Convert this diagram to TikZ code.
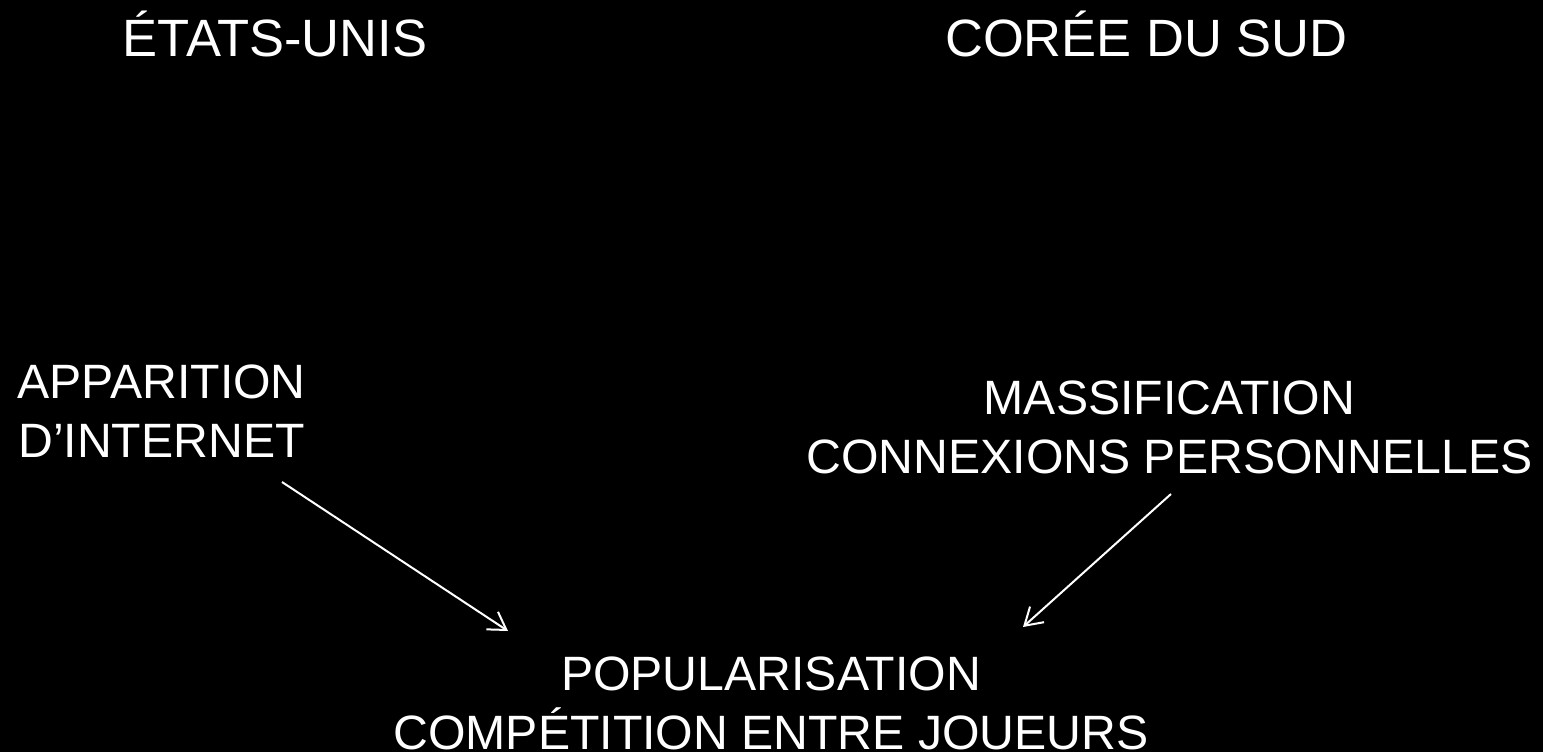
\documentclass[tikz,border=0pt]{standalone}
\usepackage{fontspec}
\setmainfont{Liberation Sans}
\usetikzlibrary{arrows.meta}
\begin{document}
\begin{tikzpicture}[x=1pt,y=-1pt,
  head/.style={text=white,inner sep=0pt,anchor=base,font=\fontsize{52.5}{62}\selectfont},
  lbl/.style={text=white,inner sep=0pt,anchor=base,align=center,font=\fontsize{48.2}{59}\selectfont},
  conn/.style={draw=white,line width=2pt,-{Straight Barb[length=17pt,width=21pt,line width=2pt]}}]
\fill[black] (0,0) rectangle (1543,752);
\useasboundingbox (0,0) rectangle (1543,752);
\node[head] (us) at (275,57) {ÉTATS-UNIS};
\node[head] (kr) at (1146.5,57) {CORÉE DU SUD};
\node[lbl] (inet) at (161.5,457) {APPARITION\\D’INTERNET};
\node[lbl] (mass) at (1169.5,473) {MASSIFICATION\\CONNEXIONS PERSONNELLES};
\node[lbl] (pop) at (771,749) {POPULARISATION\\COMPÉTITION ENTRE JOUEURS};
\coordinate (a1s) at (282,482);
\coordinate (a1e) at (508,631);
\coordinate (a2s) at (1171,494);
\coordinate (a2e) at (1023,627);
\draw[conn] (a1s) -- (a1e);
\draw[conn] (a2s) -- (a2e);
\end{tikzpicture}
\end{document}
